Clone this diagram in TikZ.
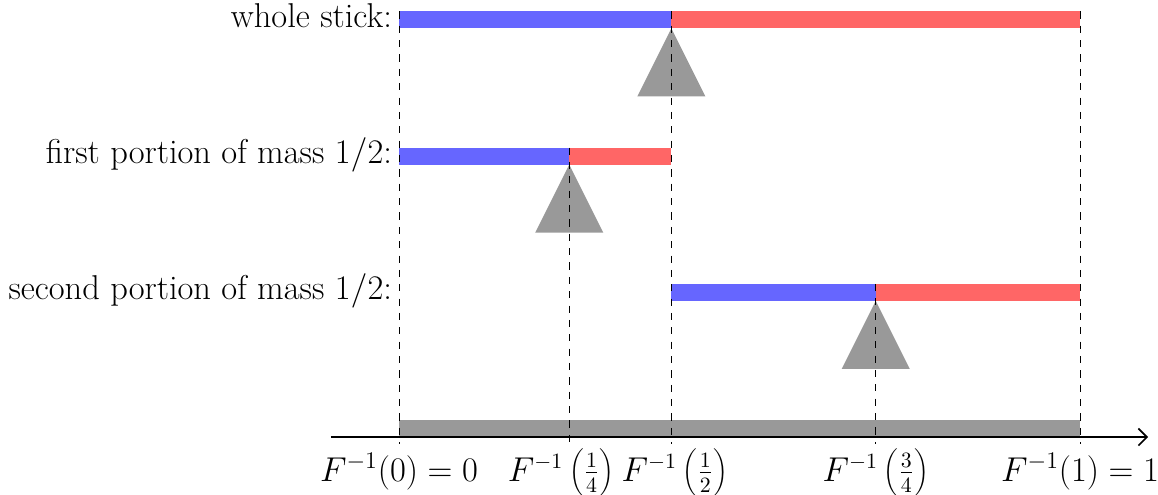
\documentclass[tikz,border=0pt]{standalone}
\usetikzlibrary{arrows.meta}
\DeclareMathSizes{17.28}{17.28}{12.1}{8.64}
\DeclareMathSizes{16.6}{16.6}{11.6}{8.3}
\DeclareMathSizes{16}{16}{11.2}{8}
\definecolor{barblue}{HTML}{6666FF}
\definecolor{barred}{HTML}{FF6666}
\definecolor{fulcrum}{HTML}{999999}
\begin{document}
\begin{tikzpicture}[x=1.2cm, y=1.2cm,
  font=\fontsize{17.28pt}{20pt}\selectfont,
  bluebar/.style={fill=barblue},
  redbar/.style={fill=barred},
  fulcrumtri/.style={fill=fulcrum},
  guide/.style={line width=0.5pt, dash pattern=on 3.6pt off 3.6pt},
  rowlabel/.style={anchor=base east},
  ticklabel/.style={anchor=base, font=\fontsize{16.6pt}{19pt}\selectfont},
  fraclabel/.style={anchor=base, font=\fontsize{16pt}{19pt}\selectfont}]
\useasboundingbox (-5.859,-0.837) rectangle (11.145,6.417);
% whole stick
\fill[bluebar] (0,6) rectangle (4,6.25);
\fill[redbar] (4,6) rectangle (10,6.25);
\fill[fulcrumtri] (4,6) -- (3.5,5) -- (4.5,5) -- cycle;
\node[rowlabel] (l1) at (0,6.02) {whole stick:};
% first portion
\fill[bluebar] (0,4) rectangle (2.5,4.25);
\fill[redbar] (2.5,4) rectangle (4,4.25);
\fill[fulcrumtri] (2.5,4) -- (2,3) -- (3,3) -- cycle;
\node[rowlabel] (l2) at (0,4.02) {first portion of mass $1/2$:};
% second portion
\fill[bluebar] (4,2) rectangle (7,2.25);
\fill[redbar] (7,2) rectangle (10,2.25);
\fill[fulcrumtri] (7,2) -- (6.5,1) -- (7.5,1) -- cycle;
\node[rowlabel] (l3) at (0,2.02) {second portion of mass $1/2$:};
% base
\fill[fulcrumtri] (0,0) rectangle (10,0.25);
\coordinate (a0) at (-1,0);
\coordinate (a1) at (11,0);
\draw[-{Straight Barb[length=1.5mm,width=3mm]}, line width=0.85pt] (a0) -- (a1);
% guides
\coordinate (t0) at (0,6.25);   \coordinate (b0) at (0,-0.1);
\coordinate (t1) at (2.5,4.25); \coordinate (b1) at (2.5,-0.1);
\coordinate (t2) at (4,6.25);   \coordinate (b2) at (4,-0.1);
\coordinate (t3) at (7,2.25);   \coordinate (b3) at (7,-0.1);
\coordinate (t4) at (10,6.25);  \coordinate (b4) at (10,-0.1);
\foreach \i in {0,...,4} \draw[guide] (t\i) -- (b\i);
% tick labels
\node[ticklabel] (x0) at (0,-0.646) {$F^{-1}(0) = 0$};
\node[fraclabel] (x1) at (2.38,-0.646) {$F^{-1}\left(\frac{1}{4}\right)$};
\node[fraclabel] (x2) at (4.05,-0.646) {$F^{-1}\left(\frac{1}{2}\right)$};
\node[fraclabel] (x3) at (7,-0.646) {$F^{-1}\left(\frac{3}{4}\right)$};
\node[ticklabel] (x4) at (10,-0.646) {$F^{-1}(1) = 1$};
\end{tikzpicture}
\end{document}
